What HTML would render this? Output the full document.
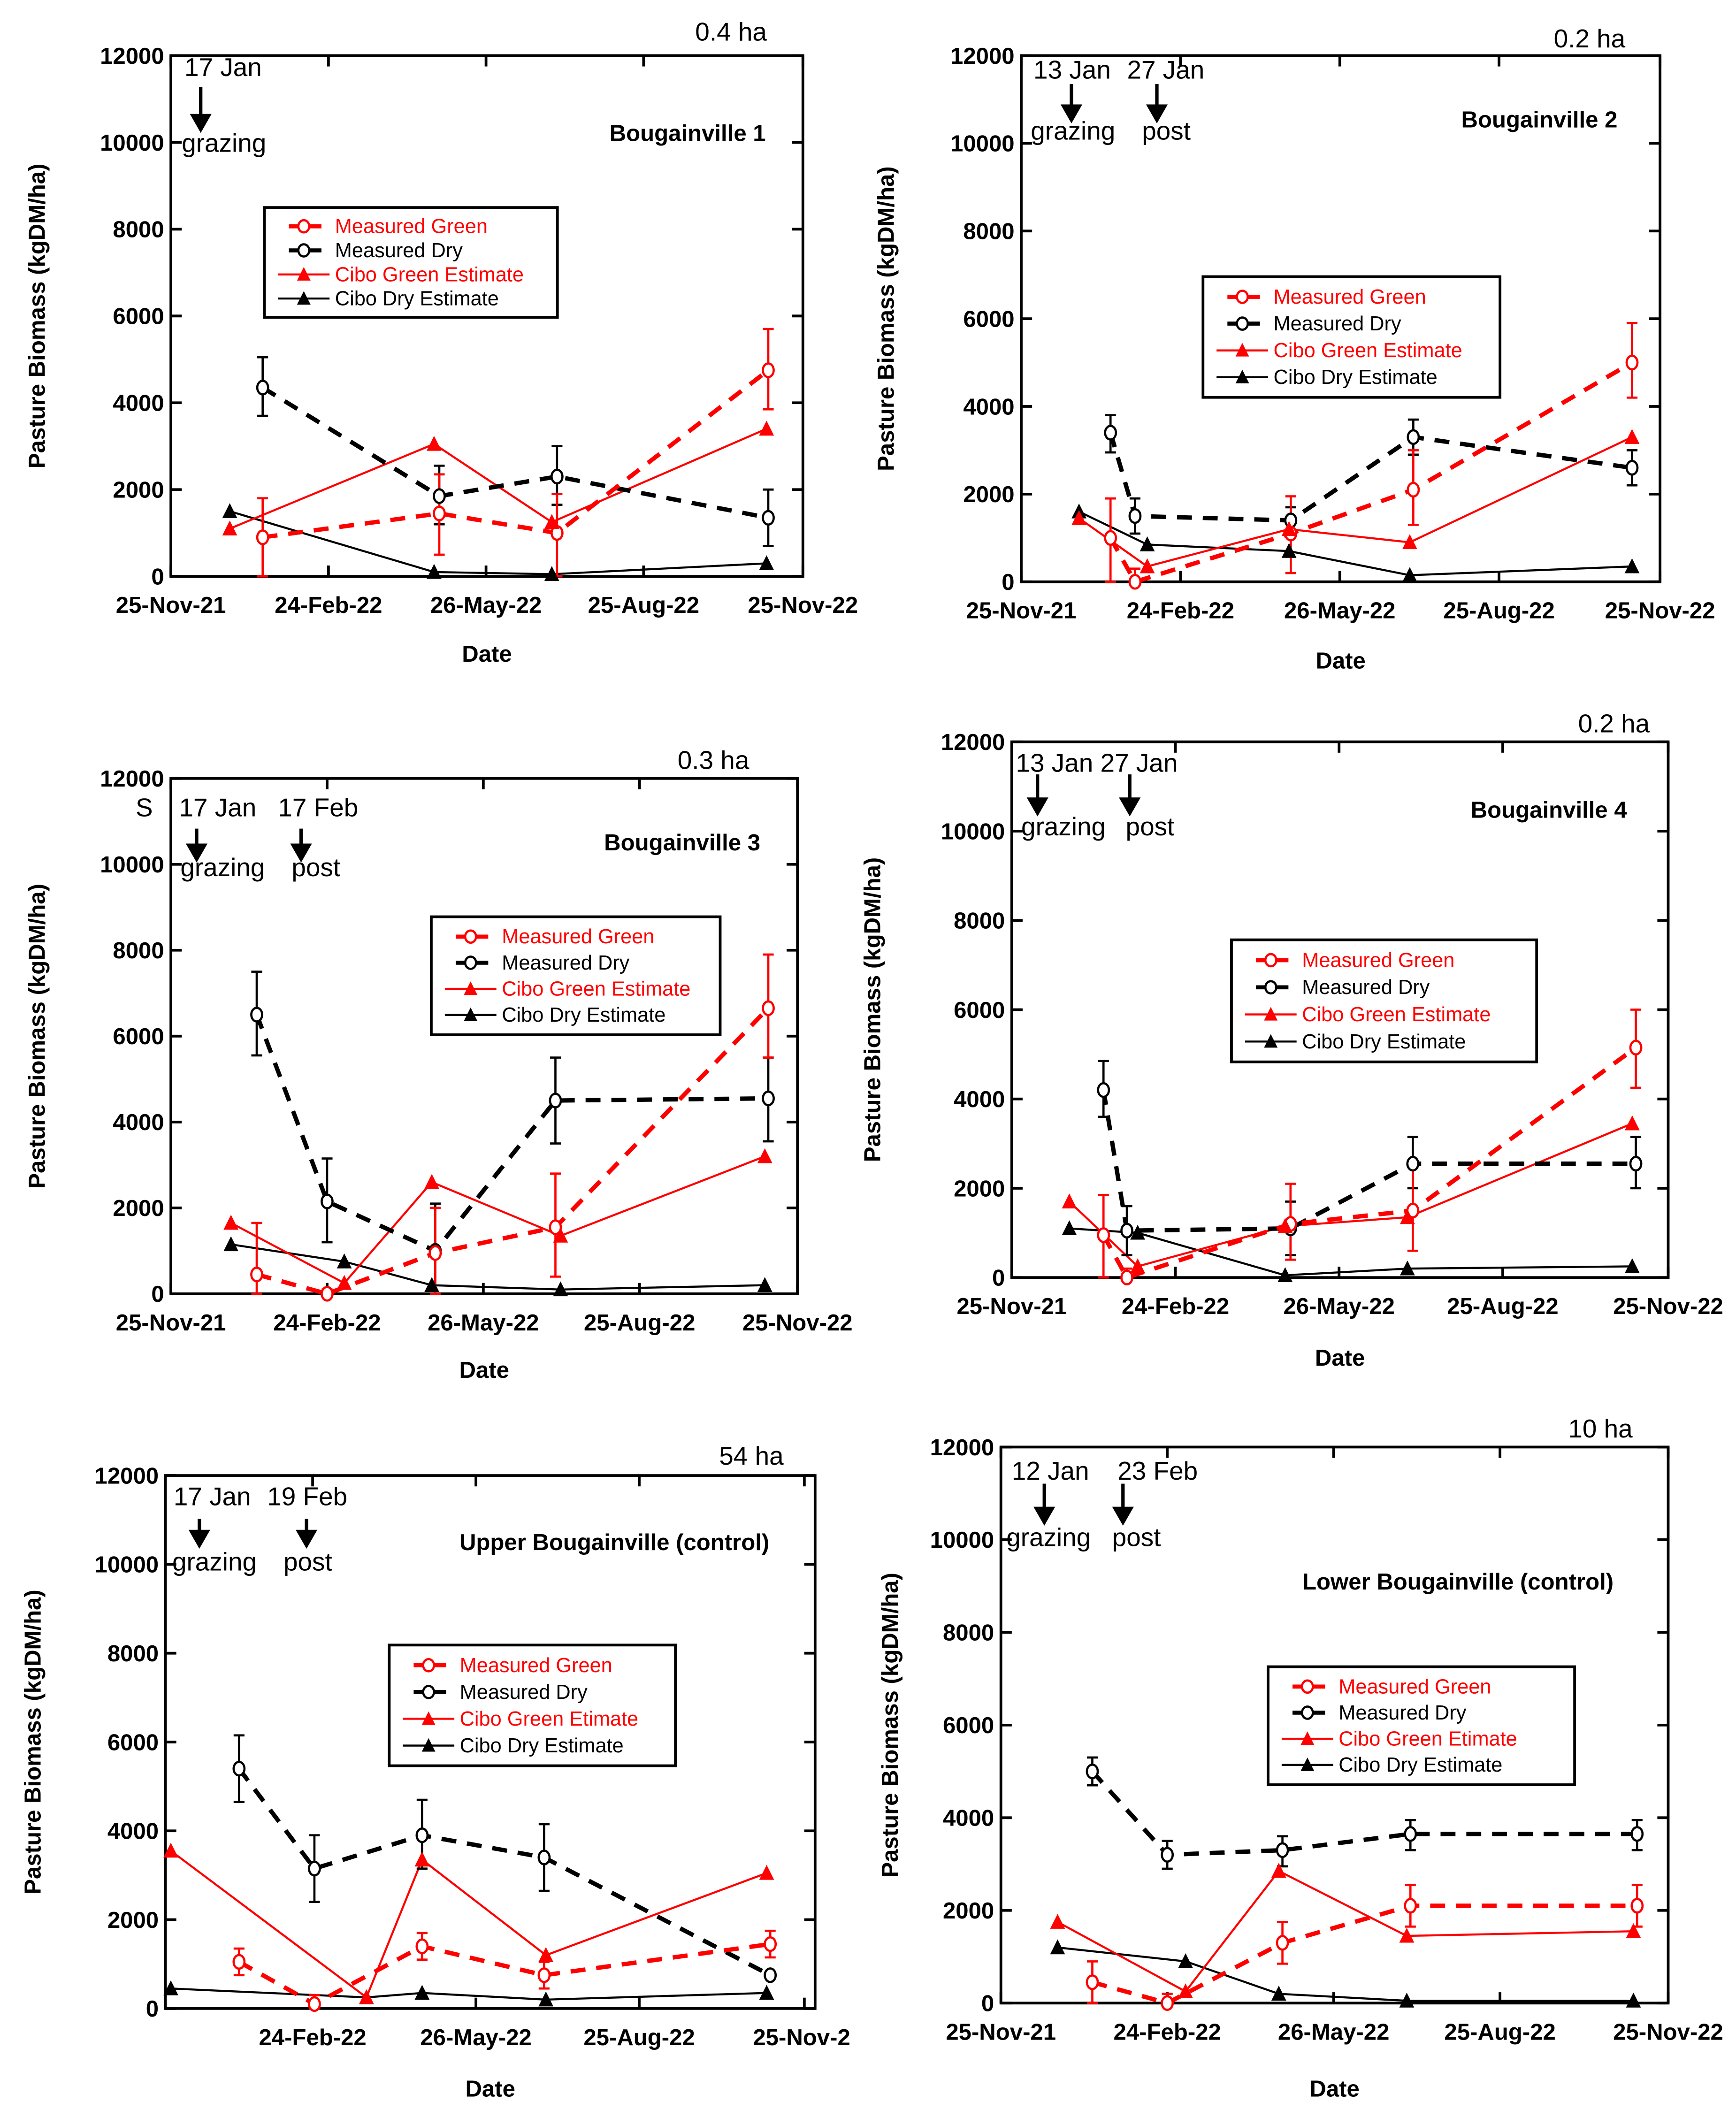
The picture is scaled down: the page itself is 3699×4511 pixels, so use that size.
<!DOCTYPE html>
<html><head><meta charset="utf-8">
<style>
html,body{margin:0;padding:0;background:#fff;}
svg{display:block;}
text{font-family:"Liberation Sans",sans-serif;}
.tk{font-size:17px;font-weight:bold;fill:#000;}
.ann{font-size:19px;fill:#000;}
</style></head>
<body>
<svg id="fig" width="3699" height="4511" viewBox="0 0 1280 1561" preserveAspectRatio="none" xmlns="http://www.w3.org/2000/svg"></svg>
<script>
// ---- data (days since 25-Nov-21, biomass kgDM/ha) ----
const xTickDays = [0, 91, 182, 273, 365];
const xTickLabels = ["25-Nov-21", "24-Feb-22", "26-May-22", "25-Aug-22", "25-Nov-22"];
const yTicks = [0, 2000, 4000, 6000, 8000, 10000, 12000];
const seriesNames = ["Measured Green", "Measured Dry", "Cibo Green Estimate", "Cibo Dry Estimate"];

// chart 1
const c1MGd = [53, 155, 223, 345];  const c1MG = [900, 1450, 1000, 4750];
const c1MGlo = [0, 500, 0, 3850];   const c1MGhi = [1800, 2350, 1900, 5700];
const c1MDd = [53, 155, 223, 345];  const c1MD = [4350, 1850, 2300, 1350];
const c1MDlo = [3700, 1200, 1650, 700]; const c1MDhi = [5050, 2550, 3000, 2000];
const c1CGd = [34, 152, 220, 344];  const c1CG = [1100, 3050, 1250, 3400];
const c1CDd = [34, 152, 220, 344];  const c1CD = [1500, 100, 50, 300];
// chart 2
const c2MGd = [51, 65, 154, 224, 349]; const c2MG = [1000, 0, 1100, 2100, 5000];
const c2MGlo = [0, 0, 200, 1300, 4200]; const c2MGhi = [1900, 300, 1950, 3000, 5900];
const c2MDd = [51, 65, 154, 224, 349]; const c2MD = [3400, 1500, 1400, 3300, 2600];
const c2MDlo = [2950, 1100, 1100, 2900, 2200]; const c2MDhi = [3800, 1900, 1700, 3700, 3000];
const c2CGd = [33, 72, 153, 222, 349]; const c2CG = [1450, 350, 1200, 900, 3300];
const c2CDd = [33, 72, 153, 222, 349]; const c2CD = [1600, 850, 700, 150, 350];
// chart 3
const c3MGd = [50, 91, 154, 224, 348]; const c3MG = [450, 0, 950, 1550, 6650];
const c3MGlo = [0, 0, 0, 400, 5500]; const c3MGhi = [1650, 100, 2000, 2800, 7900];
const c3MDd = [50, 91, 154, 224, 348]; const c3MD = [6500, 2150, 1000, 4500, 4550];
const c3MDlo = [5550, 1200, 0, 3500, 3550]; const c3MDhi = [7500, 3150, 2100, 5500, 5500];
const c3CGd = [35, 101, 152, 227, 346]; const c3CG = [1650, 250, 2600, 1350, 3200];
const c3CDd = [35, 101, 152, 227, 346]; const c3CD = [1150, 750, 200, 100, 200];
// chart 4
const c4MGd = [51, 64, 155, 223, 347]; const c4MG = [950, 0, 1200, 1500, 5150];
const c4MGlo = [0, 0, 400, 600, 4250]; const c4MGhi = [1850, 200, 2100, 2500, 6000];
const c4MDd = [51, 64, 155, 223, 347]; const c4MD = [4200, 1050, 1100, 2550, 2550];
const c4MDlo = [3600, 500, 500, 2000, 2000]; const c4MDhi = [4850, 1600, 1700, 3150, 3150];
const c4CGd = [32, 70, 152, 220, 345]; const c4CG = [1700, 250, 1150, 1350, 3450];
const c4CDd = [32, 70, 152, 220, 345]; const c4CD = [1100, 1000, 50, 200, 250];
// chart 5
const c5MGd = [50, 92, 152, 220, 346]; const c5MG = [1050, 100, 1400, 750, 1450];
const c5MGlo = [750, 0, 1100, 450, 1150]; const c5MGhi = [1350, 300, 1700, 1050, 1750];
const c5MDd = [50, 92, 152, 220, 346]; const c5MD = [5400, 3150, 3900, 3400, 750];
const c5MDlo = [4650, 2400, 3150, 2650, 750]; const c5MDhi = [6150, 3900, 4700, 4150, 750];
const c5CGd = [12, 121, 152, 221, 344]; const c5CG = [3550, 250, 3350, 1200, 3050];
const c5CDd = [12, 121, 152, 221, 344]; const c5CD = [450, 250, 350, 200, 350];
// chart 6
const c6MGd = [50, 91, 154, 224, 348]; const c6MG = [450, 0, 1300, 2100, 2100];
const c6MGlo = [0, 0, 850, 1650, 1650]; const c6MGhi = [900, 200, 1750, 2550, 2550];
const c6MDd = [50, 91, 154, 224, 348]; const c6MD = [5000, 3200, 3300, 3650, 3650];
const c6MDlo = [4700, 2900, 2950, 3300, 3300]; const c6MDhi = [5300, 3500, 3600, 3950, 3950];
const c6CGd = [31, 101, 152, 222, 346]; const c6CG = [1750, 250, 2850, 1450, 1550];
const c6CDd = [31, 101, 152, 222, 346]; const c6CD = [1200, 900, 200, 50, 50];

const NS = "http://www.w3.org/2000/svg";
const svg = document.getElementById("fig");
function mk(tag, attrs, parent) {
  const e = document.createElementNS(NS, tag);
  for (const k in attrs) e.setAttribute(k, attrs[k]);
  (parent || svg).appendChild(e);
  return e;
}
function txt(s, x, y, cls, anchor, parent, extra) {
  const t = mk("text", Object.assign({x: x, y: y, "text-anchor": anchor || "start"}, extra || {}), parent);
  if (cls) t.setAttribute("class", cls);
  t.textContent = s;
  return t;
}

function chart(cfg) {
  const g = mk("g", {});
  
  
  const L = cfg.left, R = cfg.right, T = cfg.top, B = cfg.bottom;
  const d0 = cfg.d0, d1 = cfg.d1;
  const X = d => L + (d - d0) / (d1 - d0) * (R - L);
  const Y = v => B - v / 12000 * (B - T);
  const fr = mk("rect", {x: L, y: T, width: R - L, height: B - T, fill: "none", stroke: "#000", "stroke-width": 2}, g);
  
  
  yTicks.forEach(v => {
    const y = Y(v);
    mk("line", {x1: L, x2: L + 8, y1: y, y2: y, stroke: "#000", "stroke-width": 2}, g);
    mk("line", {x1: R - 8, x2: R, y1: y, y2: y, stroke: "#000", "stroke-width": 2}, g);
    const t = txt(String(v), L - 5, y + 6, "tk", "end", g);
    
    
  });
  xTickDays.forEach((d, i) => {
    if (d < d0 - 1) return;
    const x = X(d);
    mk("line", {x1: x, x2: x, y1: B, y2: B - 8, stroke: "#000", "stroke-width": 2}, g);
    mk("line", {x1: x, x2: x, y1: T, y2: T + 8, stroke: "#000", "stroke-width": 2}, g);
    let lab = xTickLabels[i];
    let ax = x;
    if (cfg.clipLast && i === xTickLabels.length - 1) { lab = "25-Nov-2"; ax = x - 2; }
    const t = txt(lab, ax, B + 27, "tk", "middle", g);
    
    
  });
  const xt = txt("Date", (L + R) / 2, cfg.dateY, "tk", "middle", g, {"font-size": "18"});
  
  
  const ytx = cfg.ytX, yty = (T + B) / 2;
  const yt = txt("Pasture Biomass (kgDM/ha)", ytx, yty, "tk", "middle", g, {"font-size": "21", transform: "rotate(-90 " + ytx + " " + yty + ")"});
  
  

  function line(ds, vs, color, width, dash, nm) {
    const pts = ds.map((d, i) => X(d) + "," + Y(vs[i])).join(" ");
    const p = mk("polyline", {points: pts, fill: "none", stroke: color, "stroke-width": width}, g);
    if (dash) p.setAttribute("stroke-dasharray", dash);
    
    
  }
  function err(ds, lo, hi, color) {
    ds.forEach((d, i) => {
      const x = X(d);
      mk("line", {x1: x, x2: x, y1: Y(lo[i]), y2: Y(hi[i]), stroke: color, "stroke-width": 1.6}, g);
      mk("line", {x1: x - 4, x2: x + 4, y1: Y(lo[i]), y2: Y(lo[i]), stroke: color, "stroke-width": 1.6}, g);
      mk("line", {x1: x - 4, x2: x + 4, y1: Y(hi[i]), y2: Y(hi[i]), stroke: color, "stroke-width": 1.6}, g);
    });
  }
  function circles(ds, vs, color, nm) {
    ds.forEach((d, i) => {
      const c = mk("ellipse", {cx: X(d), cy: Y(vs[i]), rx: 4, ry: 5, fill: "#fff", stroke: color, "stroke-width": 1.6}, g);
      
      
    });
  }
  function tris(ds, vs, color, nm) {
    ds.forEach((d, i) => {
      const x = X(d), y = Y(vs[i]);
      const p = mk("polygon", {points: (x - 5.5) + "," + (y + 5) + " " + (x + 5.5) + "," + (y + 5) + " " + x + "," + (y - 6), fill: color}, g);
      
      
    });
  }
  const s = cfg.s;
  line(s.CDd, s.CD, "#000", 1.5, null, "cibo-dry");
  line(s.CGd, s.CG, "#f00", 1.5, null, "cibo-green");
  line(s.MDd, s.MD, "#000", 3.2, "11,8", "measured-dry");
  line(s.MGd, s.MG, "#f00", 3.2, "11,8", "measured-green");
  err(s.MDd, s.MDlo, s.MDhi, "#000");
  err(s.MGd, s.MGlo, s.MGhi, "#f00");
  circles(s.MDd, s.MD, "#000", "measured-dry");
  circles(s.MGd, s.MG, "#f00", "measured-green");
  tris(s.CDd, s.CD, "#000", "cibo-dry");
  tris(s.CGd, s.CG, "#f00", "cibo-green");

  const lg = cfg.leg;
  const lgG = mk("g", {}, g);
  
  
  mk("rect", {x: lg[0], y: lg[1], width: lg[2] - lg[0], height: lg[3] - lg[1], fill: "#fff", stroke: "#000", "stroke-width": 2}, lgG);
  const step = (lg[3] - lg[1] - 10) / 4;
  const names = [seriesNames[0], seriesNames[1], cfg.cgName || seriesNames[2], seriesNames[3]];
  names.forEach((n, i) => {
    const y = lg[1] + 5 + step * (i + 0.5);
    const color = (i % 2 === 0) ? "#f00" : "#000";
    const x0 = lg[0] + 10, x1 = lg[0] + 48, xm = (x0 + x1) / 2;
    const e = mk("g", {}, lgG);
    
    
    if (i < 2) {
      mk("line", {x1: x0 + 8, x2: x1 - 4, y1: y, y2: y, stroke: color, "stroke-width": 3, "stroke-dasharray": "9,6"}, e);
      mk("ellipse", {cx: xm, cy: y, rx: 4, ry: 4.5, fill: "#fff", stroke: color, "stroke-width": 1.6}, e);
    } else {
      mk("line", {x1: x0, x2: x1, y1: y, y2: y, stroke: color, "stroke-width": 1.5}, e);
      mk("polygon", {points: (xm - 5) + "," + (y + 4.5) + " " + (xm + 5) + "," + (y + 4.5) + " " + xm + "," + (y - 5.5), fill: color}, e);
    }
    txt(n, x1 + 4, y + 5, null, "start", e, {"font-size": "15", fill: color});
  });

  const ti = txt(cfg.title, cfg.titleXY[0], cfg.titleXY[1], "tk", "middle", g, {"font-size": "18"});
  
  
  const ar = txt(cfg.area, cfg.areaXY[0], cfg.areaXY[1], "ann", "middle", g, {"font-size": "21"});
  
  
  cfg.anns.forEach(a => {
    const t = txt(a[0], a[1], a[2], "ann", "start", g);
    
    
  });
  cfg.arrows.forEach(a => {
    const ag = mk("g", {}, g);
    
    
    mk("line", {x1: a[0], x2: a[0], y1: a[1], y2: a[2] - 12, stroke: "#000", "stroke-width": 2.5}, ag);
    mk("polygon", {points: (a[0] - 8) + "," + (a[2] - 14) + " " + (a[0] + 8) + "," + (a[2] - 14) + " " + a[0] + "," + a[2], fill: "#000"}, ag);
  });
}

function S(p) {
  return {MGd: p[0], MG: p[1], MGlo: p[2], MGhi: p[3], MDd: p[4], MD: p[5], MDlo: p[6], MDhi: p[7], CGd: p[8], CG: p[9], CDd: p[10], CD: p[11]};
}

chart({name: "chart-bougainville-1", left: 126, right: 592, top: 41, bottom: 425, d0: 0, d1: 365, dateY: 488, ytX: 33,
  s: S([c1MGd, c1MG, c1MGlo, c1MGhi, c1MDd, c1MD, c1MDlo, c1MDhi, c1CGd, c1CG, c1CDd, c1CD]),
  leg: [195, 153, 411, 234], title: "Bougainville 1", titleXY: [507, 104], area: "0.4 ha", areaXY: [539, 30],
  anns: [["17 Jan", 136, 56], ["grazing", 134, 112]], arrows: [[148, 64, 98]]});

chart({name: "chart-bougainville-2", left: 753, right: 1224, top: 41, bottom: 429, d0: 0, d1: 365, dateY: 493, ytX: 659,
  s: S([c2MGd, c2MG, c2MGlo, c2MGhi, c2MDd, c2MD, c2MDlo, c2MDhi, c2CGd, c2CG, c2CDd, c2CD]),
  leg: [887, 204, 1106, 293], title: "Bougainville 2", titleXY: [1135, 94], area: "0.2 ha", areaXY: [1172, 35],
  anns: [["13 Jan", 762, 58], ["27 Jan", 831, 58], ["grazing", 760, 103], ["post", 842, 103]], arrows: [[790, 62, 91], [853, 62, 91]]});

chart({name: "chart-bougainville-3", left: 126, right: 588, top: 574, bottom: 954, d0: 0, d1: 365, dateY: 1016, ytX: 33,
  s: S([c3MGd, c3MG, c3MGlo, c3MGhi, c3MDd, c3MD, c3MDlo, c3MDhi, c3CGd, c3CG, c3CDd, c3CD]),
  leg: [318, 676, 531, 763], title: "Bougainville 3", titleXY: [503, 627], area: "0.3 ha", areaXY: [526, 567],
  anns: [["S", 100, 602], ["17 Jan", 132, 602], ["17 Feb", 205, 602], ["grazing", 133, 646], ["post", 215, 646]], arrows: [[145, 611, 636], [222, 611, 636]]});

chart({name: "chart-bougainville-4", left: 746, right: 1230, top: 547, bottom: 942, d0: 0, d1: 365, dateY: 1007, ytX: 649,
  s: S([c4MGd, c4MG, c4MGlo, c4MGhi, c4MDd, c4MD, c4MDlo, c4MDhi, c4CGd, c4CG, c4CDd, c4CD]),
  leg: [908, 693, 1133, 783], title: "Bougainville 4", titleXY: [1142, 603], area: "0.2 ha", areaXY: [1190, 540],
  anns: [["13 Jan 27 Jan", 749, 569], ["grazing", 753, 616], ["post", 830, 616]], arrows: [[765, 571, 602], [833, 571, 602]]});

chart({name: "chart-upper-bougainville", left: 122, right: 601, top: 1088, bottom: 1481, d0: 9, d1: 371, dateY: 1546, ytX: 30, clipLast: true,
  s: S([c5MGd, c5MG, c5MGlo, c5MGhi, c5MDd, c5MD, c5MDlo, c5MDhi, c5CGd, c5CG, c5CDd, c5CD]),
  leg: [287, 1213, 498, 1302], cgName: "Cibo Green Etimate", title: "Upper Bougainville (control)", titleXY: [453, 1143], area: "54 ha", areaXY: [554, 1080],
  anns: [["17 Jan", 128, 1110], ["19 Feb", 197, 1110], ["grazing", 127, 1158], ["post", 209, 1158]], arrows: [[147, 1120, 1142], [226, 1120, 1142]]});

chart({name: "chart-lower-bougainville", left: 738, right: 1230, top: 1067, bottom: 1477, d0: 0, d1: 365, dateY: 1546, ytX: 662,
  s: S([c6MGd, c6MG, c6MGlo, c6MGhi, c6MDd, c6MD, c6MDlo, c6MDhi, c6CGd, c6CG, c6CDd, c6CD]),
  leg: [935, 1229, 1161, 1316], cgName: "Cibo Green Etimate", title: "Lower Bougainville (control)", titleXY: [1075, 1172], area: "10 ha", areaXY: [1180, 1060],
  anns: [["12 Jan", 746, 1091], ["23 Feb", 824, 1091], ["grazing", 742, 1140], ["post", 820, 1140]], arrows: [[770, 1094, 1125], [828, 1094, 1125]]});
</script>
</body></html>
